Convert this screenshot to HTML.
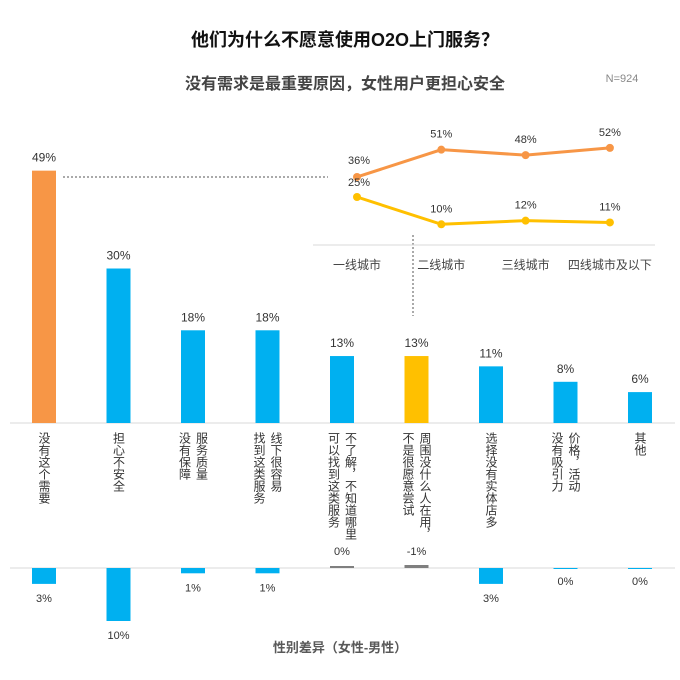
<!DOCTYPE html>
<html><head><meta charset="utf-8">
<style>
body{margin:0;background:#fff;}
svg{display:block;font-family:"Liberation Sans","Noto Sans CJK SC",sans-serif;}
.cat{writing-mode:vertical-rl;}
</style></head>
<body>
<svg id="chart" width="680" height="680" viewBox="0 0 680 680">
<text x="345" y="46" text-anchor="middle" font-size="18" font-weight="bold" fill="#111">他们为什么不愿意使用O2O上门服务？</text>
<text x="345" y="89" text-anchor="middle" font-size="16" font-weight="bold" fill="#444">没有需求是最重要原因，女性用户更担心安全</text>
<text x="622" y="82" text-anchor="middle" font-size="11" fill="#888">N=924</text>
<line x1="10" y1="423" x2="675" y2="423" stroke="#d9d9d9"/>
<line x1="10" y1="568" x2="675" y2="568" stroke="#d9d9d9"/>
<line x1="63" y1="177" x2="328" y2="177" stroke="#555" stroke-dasharray="2,2"/>
<line x1="413" y1="235" x2="413" y2="316" stroke="#555" stroke-dasharray="2,2"/>
<line x1="313" y1="245" x2="655" y2="245" stroke="#d9d9d9"/>
<text x="340" y="652" text-anchor="middle" font-size="13" font-weight="bold" fill="#595959">性别差异（女性-男性）</text>
<g id="g"></g>
</svg>
<script>
const categories=[["没有这个需要"],["担心不安全"],["服务质量","没有保障"],["线下很容易","找到这类服务"],["不了解，不知道哪里","可以找到这类服务"],["周围没什么人在用，","不是很愿意尝试"],["选择没有实体店多"],["价格，活动","没有吸引力"],["其他"]];
const shares=[49,30,18,18,13,13,11,8,6];
const diffs=[3,10,1,1,0,-1,3,0,0];
const diffLabels=["3%","10%","1%","1%","0%","-1%","3%","0%","0%"];
const barColors=["#f79646","#00b0f0","#00b0f0","#00b0f0","#00b0f0","#ffc000","#00b0f0","#00b0f0","#00b0f0"];
const cities=["一线城市","二线城市","三线城市","四线城市及以下"];
const seriesA=[36,51,48,52];
const seriesB=[25,10,12,11];

const NS="http://www.w3.org/2000/svg";
const g=document.getElementById('g');
function mk(t,a,txt){const e=document.createElementNS(NS,t);for(const k in a)e.setAttribute(k,a[k]);if(txt!==undefined)e.textContent=txt;g.appendChild(e);return e;}
const xMain=i=>44+i*74.5;
const yMain=v=>423-v*5.15;
const yDiff=v=>568+v*5.3;
const xCity=i=>357+i*84.3;
const yCity=v=>242.5-v*1.82;

shares.forEach((v,i)=>{
  const x=xMain(i);
  const r=mk('rect',{x:x-12,y:yMain(v),width:24,height:423-yMain(v),fill:barColors[i]});
  
  
  const t=mk('text',{x:x,y:yMain(v)-9,'text-anchor':'middle','font-size':12,fill:'#333'},v+'%');
  
  
  const lines=categories[i];
  lines.forEach((s,j)=>{
    const cx=x+((lines.length-1)/2-j)*17;
    const c=mk('text',{x:cx,y:432,'font-size':12,fill:'#333',class:'cat'},s);
    
    
  });
  const d=diffs[i];
  let rect,ly;
  if(d>0){rect={x:x-12,y:568,width:24,height:yDiff(d)-568,fill:'#00b0f0'};ly=yDiff(d)+18;}
  else if(d===0&&(i===4)){rect={x:x-12,y:566,width:24,height:2,fill:'#7f7f7f'};ly=555;}
  else if(d<0){rect={x:x-12,y:565,width:24,height:3,fill:'#7f7f7f'};ly=555;}
  else {rect={x:x-12,y:568,width:24,height:1,fill:'#00b0f0'};ly=585;}
  const dr=mk('rect',rect);
  
  
  const dt=mk('text',{x:x,y:ly,'text-anchor':'middle','font-size':11,fill:'#333'},diffLabels[i]);
  
  
});

function line(arr,color,name,off){
  const p=mk('polyline',{points:arr.map((v,i)=>xCity(i)+','+yCity(v)).join(' '),fill:'none',stroke:color,'stroke-width':3});
  
  
  arr.forEach((v,i)=>{
    const c=mk('circle',{cx:xCity(i),cy:yCity(v),r:4,fill:color});
    
    
    const t=mk('text',{x:xCity(i)+ (i===0?2:0),y:yCity(v)-(i===0?off:12),'text-anchor':'middle','font-size':11,fill:'#333'},v+'%');
    
    
  });
}
line(seriesA,'#f79646','orange-series',13);
line(seriesB,'#ffc000','yellow-series',11);
cities.forEach((c,i)=>{
  const t=mk('text',{x:xCity(i),y:269,'text-anchor':'middle','font-size':12,fill:'#444'},c);
  
  
});
</script>
</body></html>
